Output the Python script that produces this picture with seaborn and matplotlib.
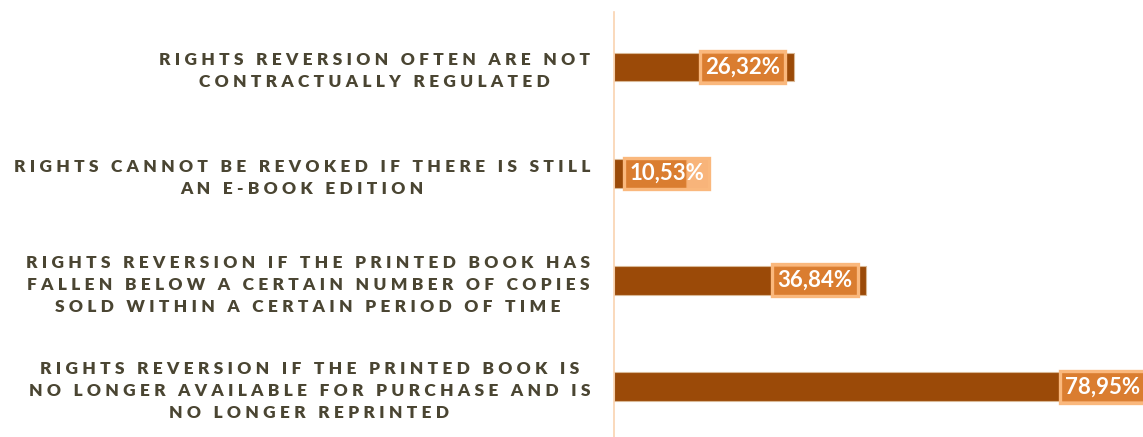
import matplotlib
matplotlib.use("Agg")
import matplotlib.pyplot as plt
import seaborn as sns
import pandas as pd

categories = [
    "RIGHTS REVERSION OFTEN ARE NOT\nCONTRACTUALLY REGULATED",
    "RIGHTS CANNOT BE REVOKED IF THERE IS STILL\nAN E-BOOK EDITION",
    "RIGHTS REVERSION IF THE PRINTED BOOK HAS\nFALLEN BELOW A CERTAIN NUMBER OF COPIES\nSOLD WITHIN A CERTAIN PERIOD OF TIME",
    "RIGHTS REVERSION IF THE PRINTED BOOK IS\nNO LONGER AVAILABLE FOR PURCHASE AND IS\nNO LONGER REPRINTED",
]
values = [26.32, 10.53, 36.84, 78.95]
value_labels = ["26,32%", "10,53%", "36,84%", "78,95%"]

BAR = "#9B4A08"
TEXT = "#4A4532"
AXIS = "#FAD3B0"

sns.set_theme(style="white")
plt.rcParams["font.family"] = ["Lato", "DejaVu Sans"]


def tracked(s):
    """Letter-spaced version of a label, line by line."""
    gap = "\u2009\u2009"
    return "\n".join(gap.join(line) for line in s.split("\n"))


df = pd.DataFrame({"category": categories, "value": values})

fig = plt.figure(figsize=(11.43, 4.37), dpi=100)
ax = fig.add_axes([0.537, 0.0, 0.463, 0.9725])

sns.barplot(data=df, y="category", x="value", orient="h", color=BAR,
            width=0.27, saturation=1, edgecolor="#D9B896", linewidth=0.8, ax=ax)

ax.set_xlim(0, 77.3)
ax.set_ylim(3.47, -0.515)
ax.set_xlabel("")
ax.set_ylabel("")
ax.set_xticks([])
for side in ["top", "right", "bottom"]:
    ax.spines[side].set_visible(False)
ax.spines["left"].set_color(AXIS)
ax.spines["left"].set_linewidth(1.2)

ax.set_yticks(range(len(categories)))
ax.set_yticklabels([tracked(c) for c in categories], fontsize=12.55, fontweight="heavy",
                   color=TEXT, ha="right", multialignment="center", linespacing=1.46)
ax.tick_params(axis="y", length=0, pad=17)

# value labels in a translucent box near the end of each bar
box_half = 6.5
for i, (v, lab) in enumerate(zip(values, value_labels)):
    cx = max(v - 1.0 - box_half, 1.2 + box_half)
    ax.text(cx, i, lab, ha="center", va="center", color="white",
            fontsize=16, fontweight="bold", clip_on=False,
            bbox=dict(boxstyle="square,pad=0.24", facecolor=(0.965, 0.58, 0.26, 0.7),
                      edgecolor=(0.98, 0.72, 0.49, 1.0), linewidth=2.4))

fig.savefig("out.png", dpi=100)
